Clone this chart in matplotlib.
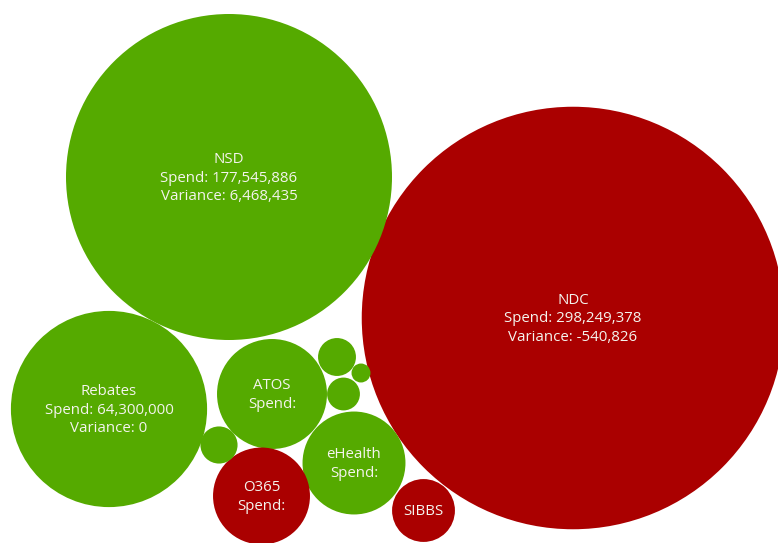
import numpy as np
import matplotlib
matplotlib.use("Agg")
import matplotlib.pyplot as plt
from matplotlib.patches import Circle

# Cost centres, their spend and whether they are over budget
names = ["NDC", "NSD", "Rebates", "ATOS", "eHealth", "O365", "SIBBS", "", "", "", ""]
spend = [298249378, 177545886, 64300000, 20200000, 17700000, 15700000, 6600000,
         2400000, 2300000, 1800000, 600000]
variance_text = ["-540,826", "6,468,435", "0", None, None, None, None, None, None, None, None]
show_spend_value = [True, True, True, False, False, False, False, False, False, False, False]
over_budget = [True, False, False, False, False, True, True, False, False, False, False]

# Packed-bubble layout (centre of each bubble, canvas pixels)
layout_x = [573, 229, 109, 272, 354, 261.5, 423.5, 337, 219, 343.5, 361]
layout_y = [318, 177, 409, 394, 463, 496, 510.5, 357, 445, 394, 373]

GREEN = "#55aa00"
RED = "#aa0000"
TEXT = "#f4f4ee"

W, H = 778, 543
fig = plt.figure(figsize=(W / 100, H / 100), dpi=100)
ax = fig.add_axes([0, 0, 1, 1])
ax.set_xlim(0, W)
ax.set_ylim(H, 0)
ax.set_aspect("equal")
ax.axis("off")

# bubble area proportional to spend
k = 163 / np.sqrt(spend[1])
for i, s in enumerate(spend):
    r = k * np.sqrt(s)
    col = RED if over_budget[i] else GREEN
    ax.add_patch(Circle((layout_x[i], layout_y[i]), r, facecolor=col,
                        edgecolor="none", antialiased=True))
    if not names[i]:
        continue
    lines = [names[i]]
    if show_spend_value[i]:
        lines.append(f"Spend: {s:,}")
    elif names[i] != "SIBBS":
        lines.append("Spend:")
    if variance_text[i] is not None:
        lines.append(f"Variance: {variance_text[i]}")
    ax.text(layout_x[i], layout_y[i] + 1, "\n".join(lines), ha="center", va="center",
            color=TEXT, fontsize=10.8, family=["Open Sans", "DejaVu Sans"],
            linespacing=1.3)

fig.savefig("out.png", dpi=100, facecolor="white")
